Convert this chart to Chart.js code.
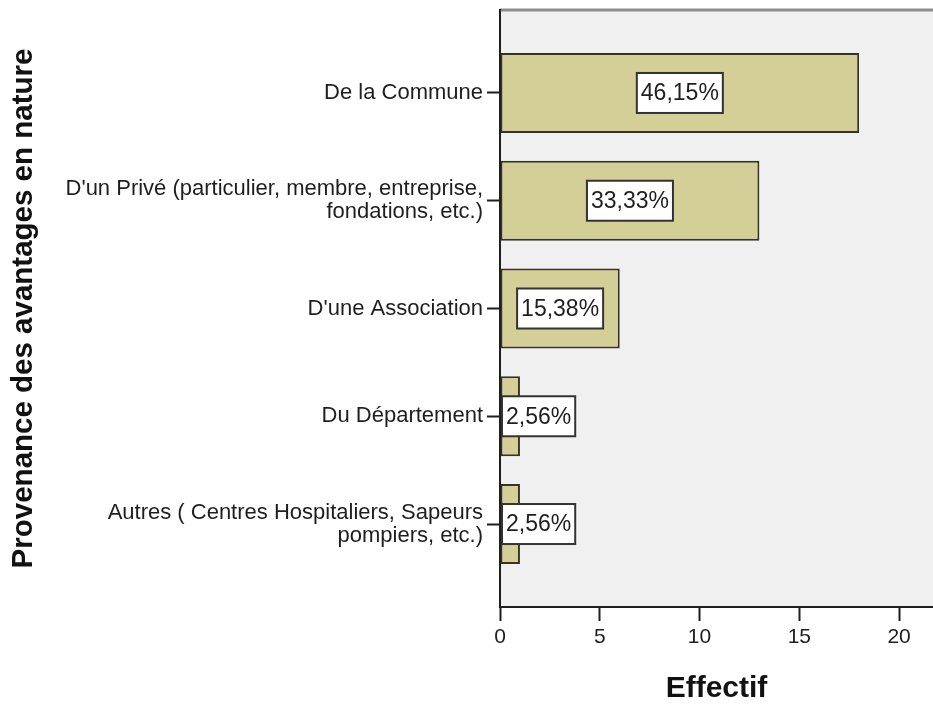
<!DOCTYPE html>
<html>
<head>
<meta charset="utf-8">
<script src="https://cdn.jsdelivr.net/npm/chart.js@4.4.0/dist/chart.umd.min.js"></script>
<style>
  html, body { margin: 0; padding: 0; background: #fff; }
  #wrap { width: 933px; height: 707px; }
</style>
</head>
<body>
<div id="wrap"><canvas id="graph"></canvas></div>
<script>
// data
const categories = [
  'De la Commune',
  ["D'un Privé (particulier, membre, entreprise,", 'fondations, etc.)'],
  "D'une Association",
  'Du Département',
  ['Autres ( Centres Hospitaliers, Sapeurs', 'pompiers, etc.)']
];
const effectifs = [18, 13, 6, 1, 1];
const xTicks = [0, 5, 10, 15, 20];

const FONT = "'Liberation Sans', Arial, sans-serif";
const INK = '#1e1e1e';

const total = effectifs.reduce((a, b) => a + b, 0);
const percents = effectifs.map(v => (v / total * 100).toFixed(2).replace('.', ',') + '%');

// grey plot background + top frame line
const plotBack = {
  id: 'plotBack',
  beforeDraw(chart) {
    const {ctx, chartArea: a} = chart;
    ctx.save();
    ctx.fillStyle = '#f0f0f0';
    ctx.fillRect(a.left, a.top, a.right - a.left, a.bottom - a.top);
    ctx.strokeStyle = '#8c8c8c';
    ctx.lineWidth = 3;
    ctx.beginPath();
    ctx.moveTo(a.left, a.top);
    ctx.lineTo(a.right, a.top);
    ctx.stroke();
    ctx.restore();
  }
};

// white boxes with percentages
const pctBoxes = {
  id: 'pctBoxes',
  afterDatasetsDraw(chart) {
    const {ctx, chartArea: a} = chart;
    const meta = chart.getDatasetMeta(0);
    ctx.save();
    ctx.font = '23px ' + FONT;
    ctx.textAlign = 'center';
    ctx.textBaseline = 'middle';
    meta.data.forEach((bar, i) => {
      const txt = percents[i];
      const w = ctx.measureText(txt).width + 8;
      const h = 40;
      let left = (bar.x + bar.base) / 2 - w / 2;
      if (left < a.left + 2) left = a.left + 2;
      ctx.fillStyle = '#fff';
      ctx.fillRect(left, bar.y - h / 2, w, h);
      ctx.strokeStyle = '#333';
      ctx.lineWidth = 2;
      ctx.strokeRect(left, bar.y - h / 2, w, h);
      ctx.fillStyle = INK;
      ctx.fillText(txt, left + w / 2, bar.y + 1);
    });
    ctx.restore();
  }
};

const data = {
  datasets: [{
    data: effectifs.map((v, i) => ({x: v, y: i})),
    backgroundColor: '#d3cf97',
    borderColor: '#333326',
    borderWidth: 2,
    borderSkipped: false,
    categoryPercentage: 0.743,
    barPercentage: 1
  }]
};

const config = {
  type: 'bar',
  data: data,
  options: {
    indexAxis: 'y',
    responsive: true,
    maintainAspectRatio: false,
    animation: false,
    layout: {padding: {top: 10, right: 0, bottom: 0, left: 0}},
    plugins: {legend: {display: false}, tooltip: {enabled: false}},
    scales: {
      x: {
        type: 'linear',
        min: 0,
        max: 21.7,
        afterBuildTicks: s => { s.ticks = xTicks.map(v => ({value: v})); },
        afterFit: s => { s.height = 100; },
        ticks: {font: {family: FONT, size: 21}, color: INK, padding: 4},
        grid: {drawOnChartArea: false, tickLength: 14, tickWidth: 2, color: INK},
        border: {color: INK, width: 2},
        title: {
          display: true, text: 'Effectif', color: '#111',
          font: {family: FONT, size: 30, weight: 'bold'},
          padding: {top: 0, bottom: 0}
        }
      },
      y: {
        type: 'linear',
        reverse: true,
        offset: false,
        min: -0.77,
        max: 4.77,
        afterBuildTicks: s => { s.ticks = categories.map((c, i) => ({value: i})); },
        afterFit: s => {
          s.width = 500;
          // labels sit well inside the plot, no overflow room needed
          s.paddingTop = 0;
          s.paddingBottom = 0;
        },
        ticks: {
          callback: v => categories[v],
          font: {family: FONT, size: 22, lineHeight: 1.05},
          color: INK,
          padding: 4,
          autoSkip: false
        },
        grid: {offset: false, drawOnChartArea: false, tickLength: 13, tickWidth: 2, color: INK},
        border: {color: INK, width: 2},
        title: {
          display: true, text: 'Provenance des avantages en nature', color: '#111',
          font: {family: FONT, size: 29.5, weight: 'bold'},
          padding: {top: 6, bottom: 0}
        }
      }
    }
  },
  plugins: [plotBack, pctBoxes]
};

const graph = new Chart(document.getElementById('graph'), config);
</script>
</body>
</html>
